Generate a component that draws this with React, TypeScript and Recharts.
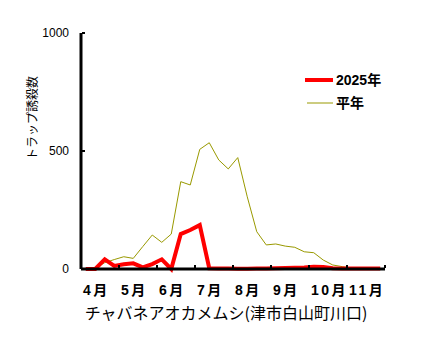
import { LineChart, Line, XAxis, YAxis, Legend } from 'recharts';

// 週ごとの誘殺数 (4月第1週〜11月第4週, 32週)
const months = ['4月', '5月', '6月', '7月', '8月', '9月', '10月', '11月'];
const trap2025 = [
  0, 0, 41, 13, 20, 24, 7, 21, 41, 0, 148, 165, 186, 3, 2, 2,
  1, 1, 2, 2, 3, 4, 5, 6, 9, 8, 3, 2, 2, 2, 2, 2,
];
const normal = [
  3, 3, 27, 40, 52, 45, 95, 144, 113, 148, 370, 356, 507, 535, 462, 424,
  472, 306, 158, 102, 106, 97, 92, 73, 69, 38, 17, 10, 3, 0, 0, 0,
];
const yTicks = [0, 500, 1000];
const legendOrder = ['2025年', '平年'];

const title = 'チャバネアオカメムシ(津市白山町川口)';
const yTitle = 'トラップ誘殺数';
const font = '"Liberation Sans", "Noto Sans CJK JP", sans-serif';
const jpFont = '"Noto Sans CJK JP", sans-serif';

const XTick = (props: any) => {
  const { x, y, payload } = props;
  const k = payload.value / 4;
  return (
    <g>
      {payload.value > 0 && (
        <line x1={x} x2={x} y1={y - 1} y2={y - 4} stroke="#000" strokeWidth={2} />
      )}
      {k < months.length && (
        <text
          x={x + 2}
          y={y + 26}
          fontSize={14}
          fontWeight="bold"
          letterSpacing={2.5}
          fill="#000"
          fontFamily={font}
        >
          {months[k]}
        </text>
      )}
    </g>
  );
};

const YTick = (props: any) => {
  const { x, y, payload } = props;
  return (
    <g>
      {payload.value > 0 && (
        <line x1={x + 1} x2={x + 4} y1={y} y2={y} stroke="#000" strokeWidth={2} />
      )}
      <text x={x - 12} y={y} dy="0.35em" textAnchor="end" fontSize={12} fill="#000" fontFamily={font}>
        {payload.value}
      </text>
    </g>
  );
};

const LegendBox = (props: any) => {
  const items = [...(props.payload || [])].sort(
    (a: any, b: any) => legendOrder.indexOf(a.value) - legendOrder.indexOf(b.value),
  );
  return (
    <svg width={100} height={45} style={{ display: 'block' }}>
      {items.map((it: any, i: number) => {
        const thick = it.value === '2025年';
        return (
          <g key={it.value}>
            <line
              x1={thick ? 5 : 7}
              x2={33}
              y1={10 + i * 23}
              y2={10 + i * 23}
              stroke={it.color}
              strokeWidth={thick ? 4 : 1}
            />
            <text x={36} y={15 + i * 23} fontSize={14} fontWeight="bold" fill="#000" fontFamily={font}>
              {it.value}
            </text>
          </g>
        );
      })}
    </svg>
  );
};

export default function App() {
  const data = trap2025.map((v, i) => ({ x: i + 0.5, y2025: v, normal: normal[i] }));
  const xTicks = [...months.map((_, k) => k * 4), months.length * 4];

  return (
    <div style={{ position: 'absolute', left: 0, top: 0, width: 448, height: 348, background: '#fff' }}>
      <LineChart width={448} height={348} data={data} margin={{ top: 33, right: 63, left: 0, bottom: 49 }}>
        <XAxis
          type="number"
          dataKey="x"
          domain={[0, 32]}
          ticks={xTicks}
          interval={0}
          height={30}
          tickSize={0}
          tickMargin={0}
          tick={XTick}
          axisLine={{ stroke: '#000', strokeWidth: 3 }}
          label={{
            content: () => (
              <text x={226} y={319} textAnchor="middle" fontSize={16} fill="#000" fontFamily={jpFont}>
                {title}
              </text>
            ),
          }}
        />
        <YAxis
          type="number"
          domain={[0, 1000]}
          ticks={yTicks}
          width={81}
          tickSize={0}
          tickMargin={0}
          tick={YTick}
          axisLine={{ stroke: '#000', strokeWidth: 3 }}
        />
        <Legend
          layout="vertical"
          align="center"
          verticalAlign="middle"
          wrapperStyle={{ left: 300, top: 70, width: 100, height: 45 }}
          content={LegendBox}
        />
        <Line
          type="linear"
          dataKey="normal"
          name="平年"
          stroke="#999900"
          strokeWidth={1}
          dot={false}
          isAnimationActive={false}
        />
        <Line
          type="linear"
          dataKey="y2025"
          name="2025年"
          stroke="#ff0000"
          strokeWidth={4}
          dot={false}
          isAnimationActive={false}
        />
      </LineChart>
      <div
        style={{
          position: 'absolute',
          left: 32,
          top: 118,
          transform: 'translate(-50%, -50%) rotate(-90deg)',
          whiteSpace: 'nowrap',
          fontSize: 12,
          lineHeight: '12px',
          fontFamily: jpFont,
          color: '#000',
        }}
      >
        {yTitle}
      </div>
    </div>
  );
}
